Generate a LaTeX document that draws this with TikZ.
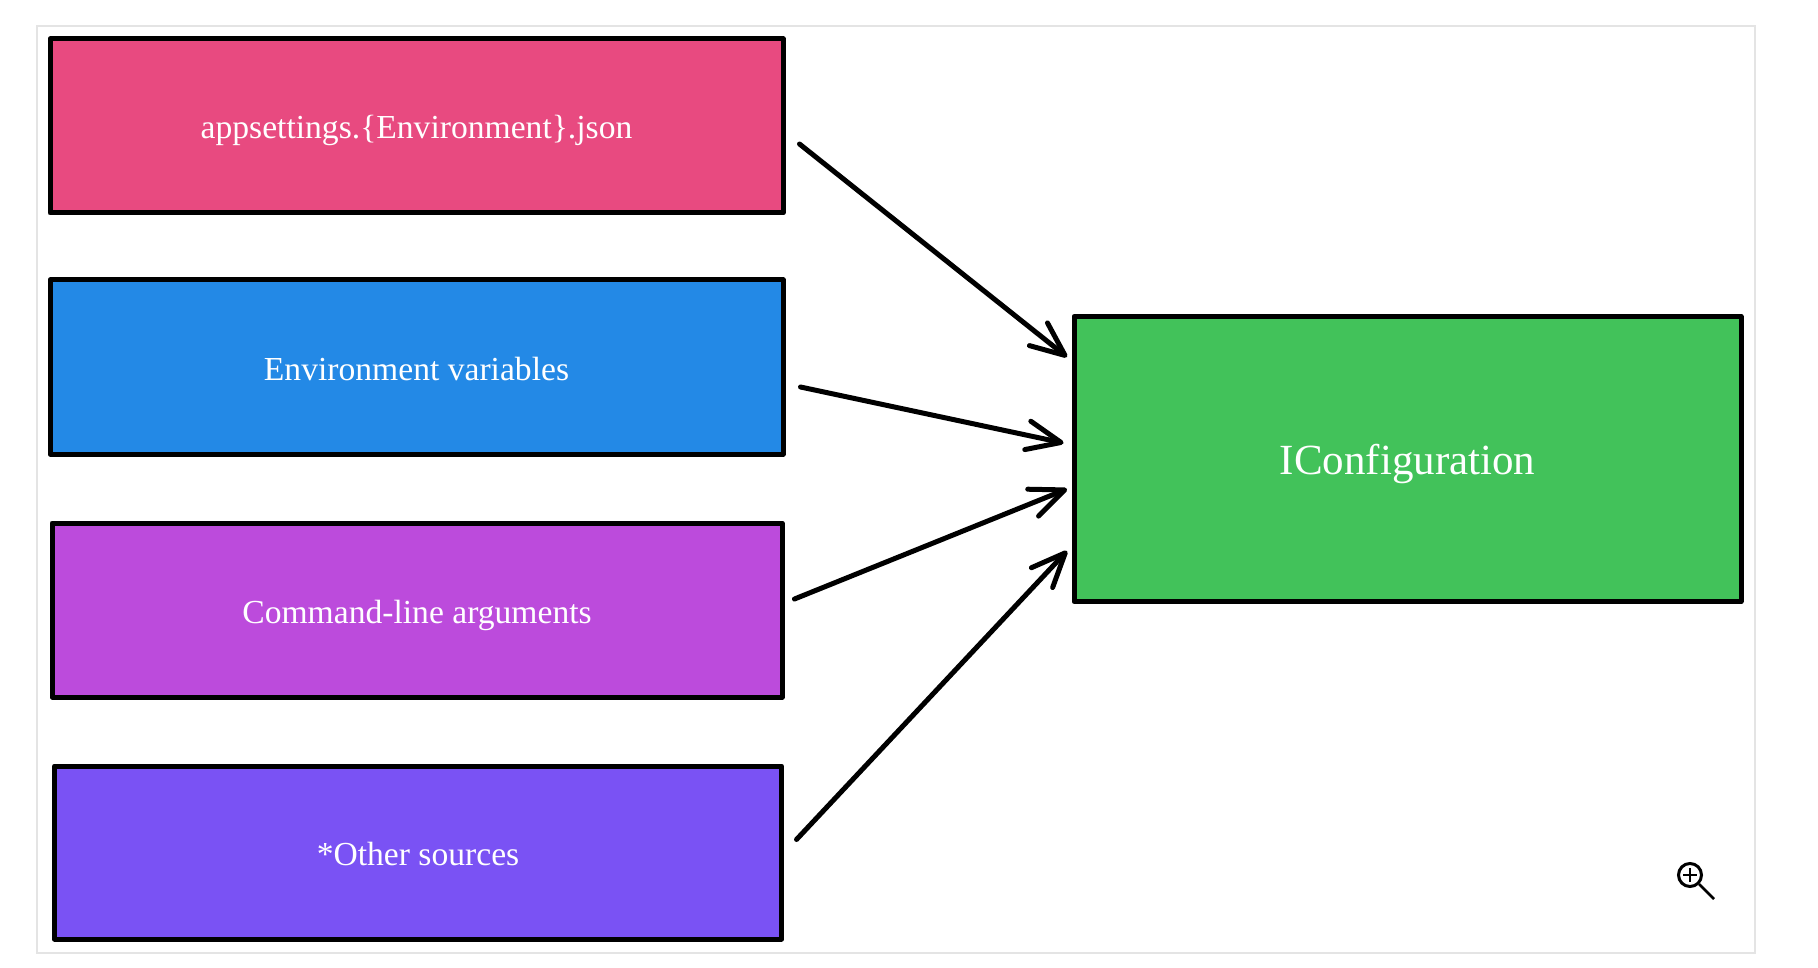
\documentclass[tikz,border=0pt]{standalone}
\usepackage{fontspec}
\setmainfont{Liberation Serif}
\usetikzlibrary{arrows.meta}
\definecolor{pinkfill}{HTML}{E84A80}
\definecolor{bluefill}{HTML}{2389E6}
\definecolor{purplefill}{HTML}{BC4BDC}
\definecolor{violetfill}{HTML}{7A52F4}
\definecolor{greenfill}{HTML}{42C25A}
\definecolor{framegray}{HTML}{E4E4E4}
\tikzset{
    source/.style={draw=black, line width=5pt, line join=round, text=white, inner sep=0pt,
        text height=26pt, text depth=0pt,
        minimum width=733pt, minimum height=174pt, font=\fontsize{33.6}{38}\selectfont},
    target/.style={draw=black, line width=5pt, line join=round, text=white, inner sep=0pt,
        text height=30pt, text depth=0pt,
        minimum width=667pt, minimum height=285pt, font=\fontsize{43}{48}\selectfont},
    flow/.style={line width=5pt, line cap=round, line join=round,
        -{Straight Barb[length=34pt, width=29pt, round]}},
}
\begin{document}
\begin{tikzpicture}[x=1pt, y=-1pt]
    \useasboundingbox (0,0) rectangle (1818,968);
    \node (frame) [draw=framegray, line width=2pt, minimum width=1718pt, minimum height=927pt] at (896,489.5) {};
    \node (json) [source, fill=pinkfill] at (416.5,126) {appsettings.\{Environment\}.json};
    \node (env) [source, fill=bluefill] at (416.5,367) {Environment variables};
    \node (cmd) [source, fill=purplefill, minimum width=730pt] at (417,610) {Command-line arguments};
    \node (other) [source, fill=violetfill, minimum width=727pt, minimum height=173pt] at (418,852.5) {*Other sources};
    \node (config) [target, fill=greenfill] at (1407.5,459) {IConfiguration};
    \draw[flow] ([xshift=14pt, yshift=-18pt]json.east) -- ([xshift=-4.5pt, yshift=102pt]config.west);
    \draw[flow] ([xshift=15pt, yshift=-20pt]env.east) -- ([xshift=-8pt, yshift=16pt]config.west);
    \draw[flow] ([xshift=10pt, yshift=11pt]cmd.east) -- ([xshift=-4.5pt, yshift=-30pt]config.west);
    \draw[flow] ([xshift=12.5pt, yshift=13pt]other.east) -- ([xshift=-4.5pt, yshift=-92pt]config.west);
    % zoom icon
    \node (lens) [draw=black, circle, line width=3pt, minimum size=23pt, inner sep=0pt] at (1690,875) {};
    \coordinate (handle) at (1714,899);
    \draw[line width=2.5pt] (lens.south east) -- (handle);
    \draw[line width=2.5pt] ([xshift=-7pt]lens.center) -- ([xshift=7pt]lens.center);
    \draw[line width=2.5pt] ([yshift=-7pt]lens.center) -- ([yshift=7pt]lens.center);
\end{tikzpicture}
\end{document}
